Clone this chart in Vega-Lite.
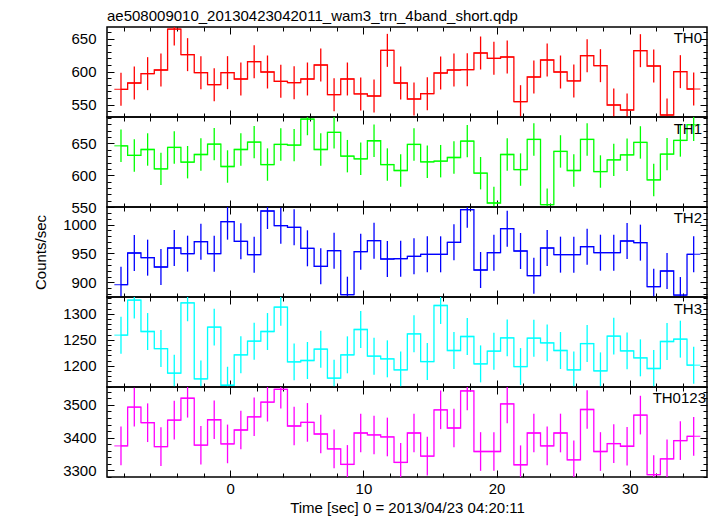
{
  "$schema": "https://vega.github.io/schema/vega-lite/v6.json",
  "background": "white",
  "padding": {"left": 32, "top": 7, "right": 9, "bottom": 0},
  "data": {"values": [
    {"ch":"TH0","t":-8.2,"rate":573.2,"err":25},{"ch":"TH0","t":-7.2,"rate":582.8,"err":25},{"ch":"TH0","t":-6.2,"rate":597.0,"err":25},{"ch":"TH0","t":-5.2,"rate":602.5,"err":25},{"ch":"TH0","t":-4.2,"rate":664.6,"err":25},{"ch":"TH0","t":-3.2,"rate":625.8,"err":25},{"ch":"TH0","t":-2.2,"rate":598.5,"err":25},{"ch":"TH0","t":-1.2,"rate":580.3,"err":25},{"ch":"TH0","t":-0.2,"rate":598.5,"err":25},{"ch":"TH0","t":0.8,"rate":588.9,"err":25},{"ch":"TH0","t":1.8,"rate":615.2,"err":25},{"ch":"TH0","t":2.8,"rate":599.5,"err":25},{"ch":"TH0","t":3.8,"rate":585.4,"err":25},{"ch":"TH0","t":4.8,"rate":583.3,"err":25},{"ch":"TH0","t":5.8,"rate":588.9,"err":25},{"ch":"TH0","t":6.8,"rate":610.1,"err":25},{"ch":"TH0","t":7.8,"rate":565.2,"err":25},{"ch":"TH0","t":8.8,"rate":588.9,"err":25},{"ch":"TH0","t":9.8,"rate":566.2,"err":25},{"ch":"TH0","t":10.8,"rate":563.1,"err":25},{"ch":"TH0","t":11.8,"rate":632.3,"err":25},{"ch":"TH0","t":12.8,"rate":582.8,"err":25},{"ch":"TH0","t":13.8,"rate":558.6,"err":25},{"ch":"TH0","t":14.8,"rate":566.7,"err":25},{"ch":"TH0","t":15.8,"rate":598.0,"err":25},{"ch":"TH0","t":16.8,"rate":602.5,"err":25},{"ch":"TH0","t":17.8,"rate":603.0,"err":25},{"ch":"TH0","t":18.8,"rate":628.3,"err":25},{"ch":"TH0","t":19.8,"rate":620.2,"err":25},{"ch":"TH0","t":20.8,"rate":622.2,"err":25},{"ch":"TH0","t":21.8,"rate":554.5,"err":25},{"ch":"TH0","t":22.8,"rate":591.9,"err":25},{"ch":"TH0","t":23.8,"rate":617.7,"err":25},{"ch":"TH0","t":24.8,"rate":599.5,"err":25},{"ch":"TH0","t":25.8,"rate":585.9,"err":25},{"ch":"TH0","t":26.8,"rate":624.2,"err":25},{"ch":"TH0","t":27.8,"rate":609.1,"err":25},{"ch":"TH0","t":28.8,"rate":549.5,"err":25},{"ch":"TH0","t":29.8,"rate":541.9,"err":25},{"ch":"TH0","t":30.8,"rate":631.8,"err":25},{"ch":"TH0","t":31.8,"rate":608.6,"err":25},{"ch":"TH0","t":32.8,"rate":534.3,"err":25},{"ch":"TH0","t":33.8,"rate":600.0,"err":25},{"ch":"TH0","t":34.8,"rate":573.7,"err":25},
    {"ch":"TH1","t":-8.2,"rate":646.3,"err":25.5},{"ch":"TH1","t":-7.2,"rate":631.1,"err":25.5},{"ch":"TH1","t":-6.2,"rate":640.5,"err":25.5},{"ch":"TH1","t":-5.2,"rate":610.0,"err":25.5},{"ch":"TH1","t":-4.2,"rate":643.7,"err":25.5},{"ch":"TH1","t":-3.2,"rate":620.5,"err":25.5},{"ch":"TH1","t":-2.2,"rate":632.6,"err":25.5},{"ch":"TH1","t":-1.2,"rate":648.9,"err":25.5},{"ch":"TH1","t":-0.2,"rate":613.7,"err":25.5},{"ch":"TH1","t":0.8,"rate":640.5,"err":25.5},{"ch":"TH1","t":1.8,"rate":652.1,"err":25.5},{"ch":"TH1","t":2.8,"rate":616.8,"err":25.5},{"ch":"TH1","t":3.8,"rate":648.4,"err":25.5},{"ch":"TH1","t":4.8,"rate":647.4,"err":25.5},{"ch":"TH1","t":5.8,"rate":688.4,"err":25.5},{"ch":"TH1","t":6.8,"rate":640.5,"err":25.5},{"ch":"TH1","t":7.8,"rate":667.4,"err":25.5},{"ch":"TH1","t":8.8,"rate":630.0,"err":25.5},{"ch":"TH1","t":9.8,"rate":625.8,"err":25.5},{"ch":"TH1","t":10.8,"rate":654.2,"err":25.5},{"ch":"TH1","t":11.8,"rate":616.8,"err":25.5},{"ch":"TH1","t":12.8,"rate":607.4,"err":25.5},{"ch":"TH1","t":13.8,"rate":648.4,"err":25.5},{"ch":"TH1","t":14.8,"rate":621.1,"err":25.5},{"ch":"TH1","t":15.8,"rate":622.1,"err":25.5},{"ch":"TH1","t":16.8,"rate":627.9,"err":25.5},{"ch":"TH1","t":17.8,"rate":653.7,"err":25.5},{"ch":"TH1","t":18.8,"rate":603.2,"err":25.5},{"ch":"TH1","t":19.8,"rate":556.3,"err":25.5},{"ch":"TH1","t":20.8,"rate":632.6,"err":25.5},{"ch":"TH1","t":21.8,"rate":608.9,"err":25.5},{"ch":"TH1","t":22.8,"rate":656.3,"err":25.5},{"ch":"TH1","t":23.8,"rate":553.7,"err":25.5},{"ch":"TH1","t":24.8,"rate":637.4,"err":25.5},{"ch":"TH1","t":25.8,"rate":607.4,"err":25.5},{"ch":"TH1","t":26.8,"rate":656.3,"err":25.5},{"ch":"TH1","t":27.8,"rate":605.8,"err":25.5},{"ch":"TH1","t":28.8,"rate":624.2,"err":25.5},{"ch":"TH1","t":29.8,"rate":632.1,"err":25.5},{"ch":"TH1","t":30.8,"rate":651.6,"err":25.5},{"ch":"TH1","t":31.8,"rate":592.6,"err":25.5},{"ch":"TH1","t":32.8,"rate":633.2,"err":25.5},{"ch":"TH1","t":33.8,"rate":654.7,"err":25.5},{"ch":"TH1","t":34.8,"rate":679.5,"err":25.5},
    {"ch":"TH2","t":-8.2,"rate":896.0,"err":31.2},{"ch":"TH2","t":-7.2,"rate":950.9,"err":31.2},{"ch":"TH2","t":-6.2,"rate":942.8,"err":31.2},{"ch":"TH2","t":-5.2,"rate":926.6,"err":31.2},{"ch":"TH2","t":-4.2,"rate":959.5,"err":31.2},{"ch":"TH2","t":-3.2,"rate":949.7,"err":31.2},{"ch":"TH2","t":-2.2,"rate":970.5,"err":31.2},{"ch":"TH2","t":-1.2,"rate":949.7,"err":31.2},{"ch":"TH2","t":-0.2,"rate":1005.2,"err":31.2},{"ch":"TH2","t":0.8,"rate":971.1,"err":31.2},{"ch":"TH2","t":1.8,"rate":948.0,"err":31.2},{"ch":"TH2","t":2.8,"rate":1023.7,"err":31.2},{"ch":"TH2","t":3.8,"rate":998.3,"err":31.2},{"ch":"TH2","t":4.8,"rate":995.4,"err":31.2},{"ch":"TH2","t":5.8,"rate":959.0,"err":31.2},{"ch":"TH2","t":6.8,"rate":927.7,"err":31.2},{"ch":"TH2","t":7.8,"rate":954.9,"err":31.2},{"ch":"TH2","t":8.8,"rate":878.6,"err":31.2},{"ch":"TH2","t":9.8,"rate":953.2,"err":31.2},{"ch":"TH2","t":10.8,"rate":972.3,"err":31.2},{"ch":"TH2","t":11.8,"rate":940.5,"err":31.2},{"ch":"TH2","t":12.8,"rate":941.0,"err":31.2},{"ch":"TH2","t":13.8,"rate":945.1,"err":31.2},{"ch":"TH2","t":14.8,"rate":948.6,"err":31.2},{"ch":"TH2","t":15.8,"rate":948.6,"err":31.2},{"ch":"TH2","t":16.8,"rate":969.4,"err":31.2},{"ch":"TH2","t":17.8,"rate":1026.0,"err":31.2},{"ch":"TH2","t":18.8,"rate":921.4,"err":31.2},{"ch":"TH2","t":19.8,"rate":951.4,"err":31.2},{"ch":"TH2","t":20.8,"rate":993.1,"err":31.2},{"ch":"TH2","t":21.8,"rate":954.3,"err":31.2},{"ch":"TH2","t":22.8,"rate":911.6,"err":31.2},{"ch":"TH2","t":23.8,"rate":959.5,"err":31.2},{"ch":"TH2","t":24.8,"rate":948.0,"err":31.2},{"ch":"TH2","t":25.8,"rate":948.0,"err":31.2},{"ch":"TH2","t":26.8,"rate":961.8,"err":31.2},{"ch":"TH2","t":27.8,"rate":951.4,"err":31.2},{"ch":"TH2","t":28.8,"rate":951.4,"err":31.2},{"ch":"TH2","t":29.8,"rate":971.7,"err":31.2},{"ch":"TH2","t":30.8,"rate":968.8,"err":31.2},{"ch":"TH2","t":31.8,"rate":892.5,"err":31.2},{"ch":"TH2","t":32.8,"rate":919.7,"err":31.2},{"ch":"TH2","t":33.8,"rate":878.0,"err":31.2},{"ch":"TH2","t":34.8,"rate":948.6,"err":31.2},
    {"ch":"TH3","t":-8.2,"rate":1259.0,"err":35.5},{"ch":"TH3","t":-7.2,"rate":1326.3,"err":35.5},{"ch":"TH3","t":-6.2,"rate":1266.0,"err":35.5},{"ch":"TH3","t":-5.2,"rate":1233.3,"err":35.5},{"ch":"TH3","t":-4.2,"rate":1185.9,"err":35.5},{"ch":"TH3","t":-3.2,"rate":1321.2,"err":35.5},{"ch":"TH3","t":-2.2,"rate":1175.0,"err":35.5},{"ch":"TH3","t":-1.2,"rate":1274.4,"err":35.5},{"ch":"TH3","t":-0.2,"rate":1162.8,"err":35.5},{"ch":"TH3","t":0.8,"rate":1221.2,"err":35.5},{"ch":"TH3","t":1.8,"rate":1247.4,"err":35.5},{"ch":"TH3","t":2.8,"rate":1266.0,"err":35.5},{"ch":"TH3","t":3.8,"rate":1312.8,"err":35.5},{"ch":"TH3","t":4.8,"rate":1207.7,"err":35.5},{"ch":"TH3","t":5.8,"rate":1210.3,"err":35.5},{"ch":"TH3","t":6.8,"rate":1232.1,"err":35.5},{"ch":"TH3","t":7.8,"rate":1176.3,"err":35.5},{"ch":"TH3","t":8.8,"rate":1221.2,"err":35.5},{"ch":"TH3","t":9.8,"rate":1269.9,"err":35.5},{"ch":"TH3","t":10.8,"rate":1218.6,"err":35.5},{"ch":"TH3","t":11.8,"rate":1213.5,"err":35.5},{"ch":"TH3","t":12.8,"rate":1192.3,"err":35.5},{"ch":"TH3","t":13.8,"rate":1261.5,"err":35.5},{"ch":"TH3","t":14.8,"rate":1208.3,"err":35.5},{"ch":"TH3","t":15.8,"rate":1316.0,"err":35.5},{"ch":"TH3","t":16.8,"rate":1229.5,"err":35.5},{"ch":"TH3","t":17.8,"rate":1256.4,"err":35.5},{"ch":"TH3","t":18.8,"rate":1203.8,"err":35.5},{"ch":"TH3","t":19.8,"rate":1228.2,"err":35.5},{"ch":"TH3","t":20.8,"rate":1253.8,"err":35.5},{"ch":"TH3","t":21.8,"rate":1198.7,"err":35.5},{"ch":"TH3","t":22.8,"rate":1253.2,"err":35.5},{"ch":"TH3","t":23.8,"rate":1244.2,"err":35.5},{"ch":"TH3","t":24.8,"rate":1229.5,"err":35.5},{"ch":"TH3","t":25.8,"rate":1192.3,"err":35.5},{"ch":"TH3","t":26.8,"rate":1242.9,"err":35.5},{"ch":"TH3","t":27.8,"rate":1190.4,"err":35.5},{"ch":"TH3","t":28.8,"rate":1257.1,"err":35.5},{"ch":"TH3","t":29.8,"rate":1228.8,"err":35.5},{"ch":"TH3","t":30.8,"rate":1215.4,"err":35.5},{"ch":"TH3","t":31.8,"rate":1194.9,"err":35.5},{"ch":"TH3","t":32.8,"rate":1246.8,"err":35.5},{"ch":"TH3","t":33.8,"rate":1251.3,"err":35.5},{"ch":"TH3","t":34.8,"rate":1201.3,"err":35.5},
    {"ch":"TH0123","t":-8.2,"rate":3374.8,"err":59},{"ch":"TH0123","t":-7.2,"rate":3492.9,"err":59},{"ch":"TH0123","t":-6.2,"rate":3445.5,"err":59},{"ch":"TH0123","t":-5.2,"rate":3372.7,"err":59},{"ch":"TH0123","t":-4.2,"rate":3453.5,"err":59},{"ch":"TH0123","t":-3.2,"rate":3520.2,"err":59},{"ch":"TH0123","t":-2.2,"rate":3376.8,"err":59},{"ch":"TH0123","t":-1.2,"rate":3454.6,"err":59},{"ch":"TH0123","t":-0.2,"rate":3380.8,"err":59},{"ch":"TH0123","t":0.8,"rate":3423.2,"err":59},{"ch":"TH0123","t":1.8,"rate":3463.6,"err":59},{"ch":"TH0123","t":2.8,"rate":3508.1,"err":59},{"ch":"TH0123","t":3.8,"rate":3547.5,"err":59},{"ch":"TH0123","t":4.8,"rate":3435.4,"err":59},{"ch":"TH0123","t":5.8,"rate":3446.5,"err":59},{"ch":"TH0123","t":6.8,"rate":3411.1,"err":59},{"ch":"TH0123","t":7.8,"rate":3365.7,"err":59},{"ch":"TH0123","t":8.8,"rate":3318.2,"err":59},{"ch":"TH0123","t":9.8,"rate":3414.1,"err":59},{"ch":"TH0123","t":10.8,"rate":3408.1,"err":59},{"ch":"TH0123","t":11.8,"rate":3402.0,"err":59},{"ch":"TH0123","t":12.8,"rate":3324.2,"err":59},{"ch":"TH0123","t":13.8,"rate":3414.1,"err":59},{"ch":"TH0123","t":14.8,"rate":3343.4,"err":59},{"ch":"TH0123","t":15.8,"rate":3484.9,"err":59},{"ch":"TH0123","t":16.8,"rate":3429.3,"err":59},{"ch":"TH0123","t":17.8,"rate":3542.4,"err":59},{"ch":"TH0123","t":18.8,"rate":3357.6,"err":59},{"ch":"TH0123","t":19.8,"rate":3357.6,"err":59},{"ch":"TH0123","t":20.8,"rate":3503.0,"err":59},{"ch":"TH0123","t":21.8,"rate":3317.2,"err":59},{"ch":"TH0123","t":22.8,"rate":3414.1,"err":59},{"ch":"TH0123","t":23.8,"rate":3374.8,"err":59},{"ch":"TH0123","t":24.8,"rate":3414.1,"err":59},{"ch":"TH0123","t":25.8,"rate":3332.3,"err":59},{"ch":"TH0123","t":26.8,"rate":3485.9,"err":59},{"ch":"TH0123","t":27.8,"rate":3357.6,"err":59},{"ch":"TH0123","t":28.8,"rate":3381.8,"err":59},{"ch":"TH0123","t":29.8,"rate":3373.7,"err":59},{"ch":"TH0123","t":30.8,"rate":3468.7,"err":59},{"ch":"TH0123","t":31.8,"rate":3286.9,"err":59},{"ch":"TH0123","t":32.8,"rate":3335.4,"err":59},{"ch":"TH0123","t":33.8,"rate":3390.9,"err":59},{"ch":"TH0123","t":34.8,"rate":3404.0,"err":59}
  ]},
  "spacing": 0,
  "bounds": "flush",
  "vconcat": [
    {
      "width": 600, "height": 90,
      "title": {"text": "ae508009010_20130423042011_wam3_trn_4band_short.qdp", "anchor": "start", "frame": "group", "baseline": "alphabetic", "offset": -9, "font": "Liberation Sans", "fontSize": 15, "fontWeight": "normal", "color": "#000"},
      "transform": [{"filter": "datum.ch === 'TH0'"}],
      "layer": [
        {"mark": {"type": "tick", "orient": "horizontal", "size": 13.33, "thickness": 1.3, "color": "#ff0000", "clip": true},
         "encoding": {
           "x": {"field": "t", "type": "quantitative", "scale": {"domain": [-9.25, 35.8], "nice": false, "zero": false}, "axis": {"orient": "bottom", "values": [-8,-6,-4,-2,0,2,4,6,8,10,12,14,16,18,20,22,24,26,28,30,32,34], "labels": false, "title": null, "tickSize": {"condition": {"test": "datum.value % 10 === 0", "value": -7}, "value": -4}}},
           "y": {"field": "rate", "type": "quantitative", "scale": {"domain": [531.3, 667.7], "nice": false, "zero": false, "clamp": true}, "axis": {"orient": "left", "values": [540,550,560,570,580,590,600,610,620,630,640,650,660], "format": "d", "labelExpr": "datum.value % 50 === 0 ? datum.label : ''", "labelPadding": 18, "title": null, "tickSize": {"condition": {"test": "datum.value % 50 === 0", "value": -7}, "value": -4}}}
         }},
        {"mark": {"type": "line", "interpolate": "step", "color": "#ff0000", "strokeWidth": 1.3, "clip": true},
         "encoding": {
           "x": {"field": "t", "type": "quantitative", "axis": {"orient": "top", "values": [-8,-6,-4,-2,0,2,4,6,8,10,12,14,16,18,20,22,24,26,28,30,32,34], "labels": false, "title": null, "tickSize": {"condition": {"test": "datum.value % 10 === 0", "value": -7}, "value": -4}}},
           "y": {"field": "rate", "type": "quantitative", "axis": {"orient": "right", "values": [540,550,560,570,580,590,600,610,620,630,640,650,660], "labels": false, "title": null, "tickSize": {"condition": {"test": "datum.value % 50 === 0", "value": -7}, "value": -4}}}
         }},
        {"mark": {"type": "errorbar", "color": "#ff0000", "thickness": 1.3, "clip": true},
         "encoding": {
           "x": {"field": "t", "type": "quantitative", "axis": null},
           "y": {"field": "rate", "type": "quantitative", "axis": null},
           "yError": {"field": "err"}
         }},
        {"data": {"values": [{"ch": "TH0", "label": "TH0"}]},
         "mark": {"type": "text", "align": "right", "baseline": "alphabetic", "dx": -5, "dy": 16, "fontSize": 15, "font": "Liberation Sans", "color": "#000"},
         "encoding": {
           "x": {"datum": 35.8, "type": "quantitative", "axis": null},
           "y": {"datum": 667.7, "type": "quantitative", "axis": null},
           "text": {"field": "label"}
         }}
      ],
      "resolve": {"axis": {"x": "independent", "y": "independent"}}
    },
    {
      "width": 600, "height": 90,
      "transform": [{"filter": "datum.ch === 'TH1'"}],
      "layer": [
        {"mark": {"type": "tick", "orient": "horizontal", "size": 13.33, "thickness": 1.3, "color": "#00ff00", "clip": true},
         "encoding": {
           "x": {"field": "t", "type": "quantitative", "scale": {"domain": [-9.25, 35.8], "nice": false, "zero": false}, "axis": {"orient": "bottom", "values": [-8,-6,-4,-2,0,2,4,6,8,10,12,14,16,18,20,22,24,26,28,30,32,34], "labels": false, "title": null, "tickSize": {"condition": {"test": "datum.value % 10 === 0", "value": -7}, "value": -4}}},
           "y": {"field": "rate", "type": "quantitative", "scale": {"domain": [550, 691.6], "nice": false, "zero": false, "clamp": true}, "axis": {"orient": "left", "values": [550,560,570,580,590,600,610,620,630,640,650,660,670,680,690], "format": "d", "labelExpr": "datum.value % 50 === 0 ? datum.label : ''", "labelPadding": 18, "title": null, "tickSize": {"condition": {"test": "datum.value % 50 === 0", "value": -7}, "value": -4}}}
         }},
        {"mark": {"type": "line", "interpolate": "step", "color": "#00ff00", "strokeWidth": 1.3, "clip": true},
         "encoding": {
           "x": {"field": "t", "type": "quantitative", "axis": {"orient": "top", "values": [-8,-6,-4,-2,0,2,4,6,8,10,12,14,16,18,20,22,24,26,28,30,32,34], "labels": false, "title": null, "tickSize": {"condition": {"test": "datum.value % 10 === 0", "value": -7}, "value": -4}}},
           "y": {"field": "rate", "type": "quantitative", "axis": {"orient": "right", "values": [550,560,570,580,590,600,610,620,630,640,650,660,670,680,690], "labels": false, "title": null, "tickSize": {"condition": {"test": "datum.value % 50 === 0", "value": -7}, "value": -4}}}
         }},
        {"mark": {"type": "errorbar", "color": "#00ff00", "thickness": 1.3, "clip": true},
         "encoding": {
           "x": {"field": "t", "type": "quantitative", "axis": null},
           "y": {"field": "rate", "type": "quantitative", "axis": null},
           "yError": {"field": "err"}
         }},
        {"data": {"values": [{"ch": "TH1", "label": "TH1"}]},
         "mark": {"type": "text", "align": "right", "baseline": "alphabetic", "dx": -5, "dy": 16.5, "fontSize": 15, "font": "Liberation Sans", "color": "#000"},
         "encoding": {
           "x": {"datum": 35.8, "type": "quantitative", "axis": null},
           "y": {"datum": 691.6, "type": "quantitative", "axis": null},
           "text": {"field": "label"}
         }}
      ],
      "resolve": {"axis": {"x": "independent", "y": "independent"}}
    },
    {
      "width": 600, "height": 90,
      "transform": [{"filter": "datum.ch === 'TH2'"}],
      "layer": [
        {"mark": {"type": "tick", "orient": "horizontal", "size": 13.33, "thickness": 1.3, "color": "#0000ff", "clip": true},
         "encoding": {
           "x": {"field": "t", "type": "quantitative", "scale": {"domain": [-9.25, 35.8], "nice": false, "zero": false}, "axis": {"orient": "bottom", "values": [-8,-6,-4,-2,0,2,4,6,8,10,12,14,16,18,20,22,24,26,28,30,32,34], "labels": false, "title": null, "tickSize": {"condition": {"test": "datum.value % 10 === 0", "value": -7}, "value": -4}}},
           "y": {"field": "rate", "type": "quantitative", "scale": {"domain": [874.6, 1030.6], "nice": false, "zero": false, "clamp": true}, "axis": {"orient": "left", "values": [880,890,900,910,920,930,940,950,960,970,980,990,1000,1010,1020,1030], "format": "d", "labelExpr": "datum.value % 50 === 0 ? datum.label : ''", "labelPadding": 18, "title": "Counts/sec", "titleX": -67, "titleY": 45, "titleAngle": 270, "titleAlign": "center", "titleBaseline": "middle", "tickSize": {"condition": {"test": "datum.value % 50 === 0", "value": -7}, "value": -4}}}
         }},
        {"mark": {"type": "line", "interpolate": "step", "color": "#0000ff", "strokeWidth": 1.3, "clip": true},
         "encoding": {
           "x": {"field": "t", "type": "quantitative", "axis": {"orient": "top", "values": [-8,-6,-4,-2,0,2,4,6,8,10,12,14,16,18,20,22,24,26,28,30,32,34], "labels": false, "title": null, "tickSize": {"condition": {"test": "datum.value % 10 === 0", "value": -7}, "value": -4}}},
           "y": {"field": "rate", "type": "quantitative", "axis": {"orient": "right", "values": [880,890,900,910,920,930,940,950,960,970,980,990,1000,1010,1020,1030], "labels": false, "title": null, "tickSize": {"condition": {"test": "datum.value % 50 === 0", "value": -7}, "value": -4}}}
         }},
        {"mark": {"type": "errorbar", "color": "#0000ff", "thickness": 1.3, "clip": true},
         "encoding": {
           "x": {"field": "t", "type": "quantitative", "axis": null},
           "y": {"field": "rate", "type": "quantitative", "axis": null},
           "yError": {"field": "err"}
         }},
        {"data": {"values": [{"ch": "TH2", "label": "TH2"}]},
         "mark": {"type": "text", "align": "right", "baseline": "alphabetic", "dx": -5, "dy": 16, "fontSize": 15, "font": "Liberation Sans", "color": "#000"},
         "encoding": {
           "x": {"datum": 35.8, "type": "quantitative", "axis": null},
           "y": {"datum": 1030.6, "type": "quantitative", "axis": null},
           "text": {"field": "label"}
         }}
      ],
      "resolve": {"axis": {"x": "independent", "y": "independent"}}
    },
    {
      "width": 600, "height": 90,
      "transform": [{"filter": "datum.ch === 'TH3'"}],
      "layer": [
        {"mark": {"type": "tick", "orient": "horizontal", "size": 13.33, "thickness": 1.3, "color": "#00ffff", "clip": true},
         "encoding": {
           "x": {"field": "t", "type": "quantitative", "scale": {"domain": [-9.25, 35.8], "nice": false, "zero": false}, "axis": {"orient": "bottom", "values": [-8,-6,-4,-2,0,2,4,6,8,10,12,14,16,18,20,22,24,26,28,30,32,34], "labels": false, "title": null, "tickSize": {"condition": {"test": "datum.value % 10 === 0", "value": -7}, "value": -4}}},
           "y": {"field": "rate", "type": "quantitative", "scale": {"domain": [1159.4, 1332.3], "nice": false, "zero": false, "clamp": true}, "axis": {"orient": "left", "values": [1160,1170,1180,1190,1200,1210,1220,1230,1240,1250,1260,1270,1280,1290,1300,1310,1320,1330], "format": "d", "labelExpr": "datum.value % 50 === 0 ? datum.label : ''", "labelPadding": 18, "title": null, "tickSize": {"condition": {"test": "datum.value % 50 === 0", "value": -7}, "value": -4}}}
         }},
        {"mark": {"type": "line", "interpolate": "step", "color": "#00ffff", "strokeWidth": 1.3, "clip": true},
         "encoding": {
           "x": {"field": "t", "type": "quantitative", "axis": {"orient": "top", "values": [-8,-6,-4,-2,0,2,4,6,8,10,12,14,16,18,20,22,24,26,28,30,32,34], "labels": false, "title": null, "tickSize": {"condition": {"test": "datum.value % 10 === 0", "value": -7}, "value": -4}}},
           "y": {"field": "rate", "type": "quantitative", "axis": {"orient": "right", "values": [1160,1170,1180,1190,1200,1210,1220,1230,1240,1250,1260,1270,1280,1290,1300,1310,1320,1330], "labels": false, "title": null, "tickSize": {"condition": {"test": "datum.value % 50 === 0", "value": -7}, "value": -4}}}
         }},
        {"mark": {"type": "errorbar", "color": "#00ffff", "thickness": 1.3, "clip": true},
         "encoding": {
           "x": {"field": "t", "type": "quantitative", "axis": null},
           "y": {"field": "rate", "type": "quantitative", "axis": null},
           "yError": {"field": "err"}
         }},
        {"data": {"values": [{"ch": "TH3", "label": "TH3"}]},
         "mark": {"type": "text", "align": "right", "baseline": "alphabetic", "dx": -5, "dy": 16.5, "fontSize": 15, "font": "Liberation Sans", "color": "#000"},
         "encoding": {
           "x": {"datum": 35.8, "type": "quantitative", "axis": null},
           "y": {"datum": 1332.3, "type": "quantitative", "axis": null},
           "text": {"field": "label"}
         }}
      ],
      "resolve": {"axis": {"x": "independent", "y": "independent"}}
    },
    {
      "width": 600, "height": 90,
      "transform": [{"filter": "datum.ch === 'TH0123'"}],
      "layer": [
        {"mark": {"type": "tick", "orient": "horizontal", "size": 13.33, "thickness": 1.3, "color": "#ff00ff", "clip": true},
         "encoding": {
           "x": {"field": "t", "type": "quantitative", "scale": {"domain": [-9.25, 35.8], "nice": false, "zero": false}, "axis": {"orient": "bottom", "values": [-8,-6,-4,-2,0,2,4,6,8,10,12,14,16,18,20,22,24,26,28,30,32,34], "format": "d", "labelExpr": "datum.value % 10 === 0 ? datum.label : ''", "labelPadding": 11, "labelFlush": false, "labelOverlap": false, "title": "Time [sec] 0 = 2013/04/23 04:20:11", "titlePadding": 1, "tickSize": {"condition": {"test": "datum.value % 10 === 0", "value": -7}, "value": -4}}},
           "y": {"field": "rate", "type": "quantitative", "scale": {"domain": [3279.8, 3554.5], "nice": false, "zero": false, "clamp": true}, "axis": {"orient": "left", "values": [3280,3300,3320,3340,3360,3380,3400,3420,3440,3460,3480,3500,3520,3540], "format": "d", "labelExpr": "datum.value % 100 === 0 ? datum.label : ''", "labelPadding": 18, "title": null, "tickSize": {"condition": {"test": "datum.value % 100 === 0", "value": -7}, "value": -4}}}
         }},
        {"mark": {"type": "line", "interpolate": "step", "color": "#ff00ff", "strokeWidth": 1.3, "clip": true},
         "encoding": {
           "x": {"field": "t", "type": "quantitative", "axis": {"orient": "top", "values": [-8,-6,-4,-2,0,2,4,6,8,10,12,14,16,18,20,22,24,26,28,30,32,34], "labels": false, "title": null, "tickSize": {"condition": {"test": "datum.value % 10 === 0", "value": -7}, "value": -4}}},
           "y": {"field": "rate", "type": "quantitative", "axis": {"orient": "right", "values": [3280,3300,3320,3340,3360,3380,3400,3420,3440,3460,3480,3500,3520,3540], "labels": false, "title": null, "tickSize": {"condition": {"test": "datum.value % 100 === 0", "value": -7}, "value": -4}}}
         }},
        {"mark": {"type": "errorbar", "color": "#ff00ff", "thickness": 1.3, "clip": true},
         "encoding": {
           "x": {"field": "t", "type": "quantitative", "axis": null},
           "y": {"field": "rate", "type": "quantitative", "axis": null},
           "yError": {"field": "err"}
         }},
        {"data": {"values": [{"ch": "TH0123", "label": "TH0123"}]},
         "mark": {"type": "text", "align": "right", "baseline": "alphabetic", "dx": -1, "dy": 16, "fontSize": 15, "font": "Liberation Sans", "color": "#000"},
         "encoding": {
           "x": {"datum": 35.8, "type": "quantitative", "axis": null},
           "y": {"datum": 3554.5, "type": "quantitative", "axis": null},
           "text": {"field": "label"}
         }}
      ],
      "resolve": {"axis": {"x": "independent", "y": "independent"}}
    }
  ],
  "config": {
    "font": "Liberation Sans",
    "view": {"stroke": "#000", "strokeWidth": 1.5},
    "axis": {"domain": false, "grid": false, "labelFont": "Liberation Sans", "labelFontSize": 15, "labelColor": "#000", "titleFont": "Liberation Sans", "titleFontSize": 15, "titleFontWeight": "normal", "titleColor": "#000", "tickColor": "#000", "tickWidth": 1}
  }
}
